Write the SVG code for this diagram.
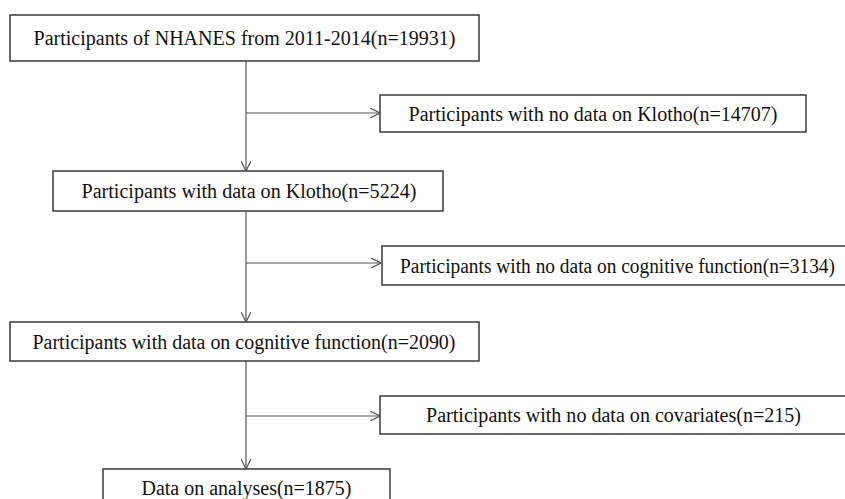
<svg xmlns="http://www.w3.org/2000/svg" width="845" height="499" viewBox="0 0 845 499">
<style>
.box{fill:#fff;stroke:#3a3a3a;stroke-width:1.5}
.t{font-family:"Liberation Serif","Times New Roman",serif;font-size:20px;fill:#111;text-anchor:middle}
.c{fill:none;stroke:#555;stroke-width:1.2}
</style>
<defs>
<marker id="ah" viewBox="0 0 10 10" refX="10" refY="5" markerWidth="10" markerHeight="10" markerUnits="userSpaceOnUse" orient="auto">
<path d="M0,0 L10,5 L0,10" fill="none" stroke="#555" stroke-width="1.2"/>
</marker>
</defs>
<rect width="845" height="499" fill="#fff"/>
<g id="connectors">
<line class="c" x1="246" y1="61" x2="246" y2="171" marker-end="url(#ah)"/>
<line class="c" x1="246" y1="113" x2="380" y2="113" marker-end="url(#ah)"/>
<line class="c" x1="246" y1="211" x2="246" y2="322" marker-end="url(#ah)"/>
<line class="c" x1="246" y1="263" x2="381" y2="263" marker-end="url(#ah)"/>
<line class="c" x1="246" y1="361" x2="246" y2="469" marker-end="url(#ah)"/>
<line class="c" x1="246" y1="416" x2="380" y2="416" marker-end="url(#ah)"/>
</g>
<g id="n1">
<rect class="box" x="10" y="15" width="469" height="46"/>
<text class="t" x="244.5" y="45" textLength="422" lengthAdjust="spacingAndGlyphs">Participants of NHANES from 2011-2014(n=19931)</text>
</g>
<g id="n2">
<rect class="box" x="380" y="95" width="426" height="37"/>
<text class="t" x="593" y="120.5" textLength="369" lengthAdjust="spacingAndGlyphs">Participants with no data on Klotho(n=14707)</text>
</g>
<g id="n3">
<rect class="box" x="53" y="171" width="390" height="40"/>
<text class="t" x="249" y="198" textLength="335" lengthAdjust="spacingAndGlyphs">Participants with data on Klotho(n=5224)</text>
</g>
<g id="n4">
<rect class="box" x="382" y="246" width="476" height="39"/>
<text class="t" x="617.5" y="272.5" textLength="435" lengthAdjust="spacingAndGlyphs">Participants with no data on cognitive function(n=3134)</text>
</g>
<g id="n5">
<rect class="box" x="10" y="322" width="469" height="39"/>
<text class="t" x="244" y="348.5" textLength="423" lengthAdjust="spacingAndGlyphs">Participants with data on cognitive function(n=2090)</text>
</g>
<g id="n6">
<rect class="box" x="380" y="396" width="467" height="38"/>
<text class="t" x="613.5" y="422" textLength="375" lengthAdjust="spacingAndGlyphs">Participants with no data on covariates(n=215)</text>
</g>
<g id="n7">
<rect class="box" x="103" y="469" width="287" height="42"/>
<text class="t" x="246.5" y="495" textLength="210" lengthAdjust="spacingAndGlyphs">Data on analyses(n=1875)</text>
</g>
</svg>
